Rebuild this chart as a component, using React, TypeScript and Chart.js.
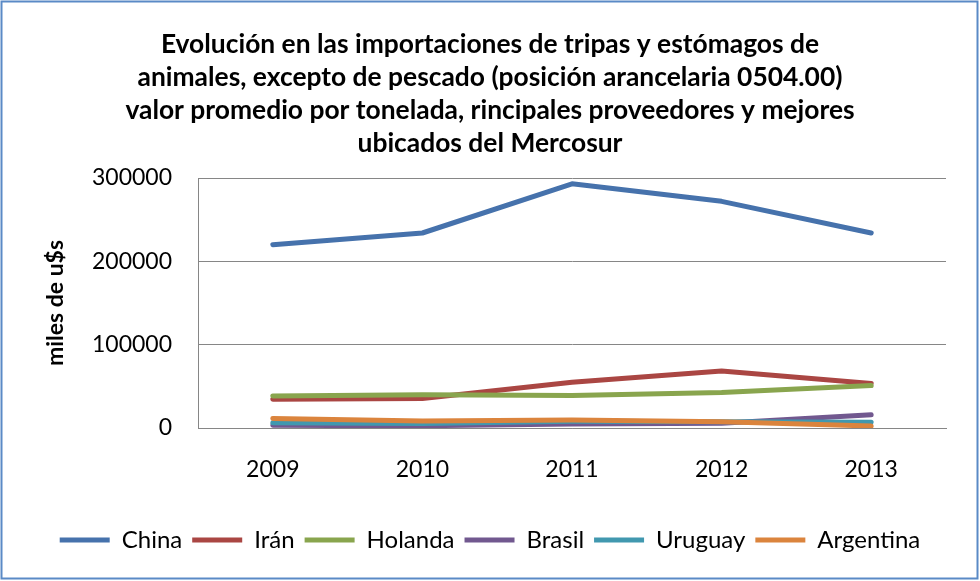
import React, { useEffect, useRef } from "react";
import { Chart, registerables } from "chart.js";

Chart.register(...registerables);

const years = ["2009", "2010", "2011", "2012", "2013"];
const seriesNames = ["China", "Irán", "Holanda", "Brasil", "Uruguay", "Argentina"];
const china = [220000, 234000, 293000, 272000, 234000];
const iran = [34500, 35500, 55000, 68500, 53500];
const holanda = [38500, 40000, 39000, 42500, 51000];
const brasil = [3200, 2700, 4800, 5600, 15800];
const uruguay = [6200, 5500, 8000, 7600, 6800];
const argentina = [11500, 8300, 9500, 7500, 2400];
const colors = ["#4672AC", "#AA4643", "#89A54E", "#71588F", "#4198AF", "#DB843D"];
const yTicks = [0, 100000, 200000, 300000];
const titleLines = [
  "Evolución en las importaciones de tripas y estómagos de",
  "animales, excepto de pescado (posición arancelaria 0504.00)",
  "valor promedio por tonelada, rincipales proveedores y mejores",
  "ubicados del Mercosur",
];
const yTitle = "miles de u$s";

const FONT = "Lato, 'Open Sans', sans-serif";

const framePlugin = {
  id: "frame",
  afterDraw(chart: any) {
    const ctx = chart.ctx;
    ctx.save();
    ctx.strokeStyle = "#5A8AC6";
    ctx.lineWidth = 2;
    ctx.strokeRect(1.5, 1.5, 976, 577);
    ctx.restore();
  },
};

export default function App() {
  const ref = useRef<HTMLCanvasElement | null>(null);

  useEffect(() => {
    if (!ref.current) return;
    const all = [china, iran, holanda, brasil, uruguay, argentina];
    const chart = new Chart(ref.current, {
      type: "line",
      data: {
        labels: years,
        datasets: all.map((d, i) => ({
          label: seriesNames[i],
          data: d,
          borderColor: colors[i],
          backgroundColor: colors[i],
          borderWidth: 5,
          borderCapStyle: "round",
          borderJoinStyle: "round",
          pointRadius: 0,
          pointHoverRadius: 0,
          tension: 0,
          fill: false,
          order: all.length - i,
        })),
      },
      options: {
        responsive: false,
        animation: false,
        devicePixelRatio: 1,
        layout: { padding: { left: 0, right: 0, top: 0, bottom: 19 } },
        plugins: {
          tooltip: { enabled: false },
          title: {
            display: true,
            text: titleLines,
            color: "#000",
            font: { family: FONT, size: 26.4, weight: "bold", lineHeight: 1.25 },
            padding: { top: 28, bottom: 18 },
          },
          legend: {
            display: true,
            position: "bottom",
            labels: {
              color: "#000",
              font: { family: FONT, size: 24 },
              usePointStyle: true,
              pointStyle: "line",
              pointStyleWidth: 50,
              padding: 10,
              sort: (a: any, b: any) => a.datasetIndex - b.datasetIndex,
            },
          },
        },
        scales: {
          x: {
            offset: true,
            grid: { display: false, drawTicks: false },
            border: { display: true, color: "#868686", width: 1 },
            ticks: { color: "#000", font: { family: FONT, size: 23 }, padding: 28 },
            afterFit: (s: any) => {
              s.height = 90;
            },
          },
          y: {
            min: 0,
            max: 300000,
            afterBuildTicks: (s: any) => {
              s.ticks = yTicks.map((v) => ({ value: v }));
            },
            grid: { color: "#868686", lineWidth: 1, drawTicks: false },
            border: { display: true, color: "#868686", width: 1 },
            ticks: {
              color: "#000",
              font: { family: FONT, size: 23 },
              padding: 26,
              callback: (v: any) => String(v),
            },
            title: {
              display: true,
              text: yTitle,
              color: "#000",
              font: { family: FONT, size: 23, weight: "bold" },
              padding: { top: 42, bottom: 0 },
            },
            afterFit: (s: any) => {
              s.width = 198;
            },
          },
          y2: {
            position: "right",
            display: true,
            grid: { display: false, drawTicks: false },
            border: { display: false },
            ticks: { display: false },
            afterFit: (s: any) => {
              s.width = 34;
            },
          },
        },
      },
      plugins: [framePlugin],
    } as any);
    return () => chart.destroy();
  }, []);

  return (
    <div style={{ position: "absolute", left: 0, top: 0, width: 980, height: 581, background: "#fff" }}>
      <canvas ref={ref} width={980} height={581} style={{ display: "block" }} />
    </div>
  );
}
